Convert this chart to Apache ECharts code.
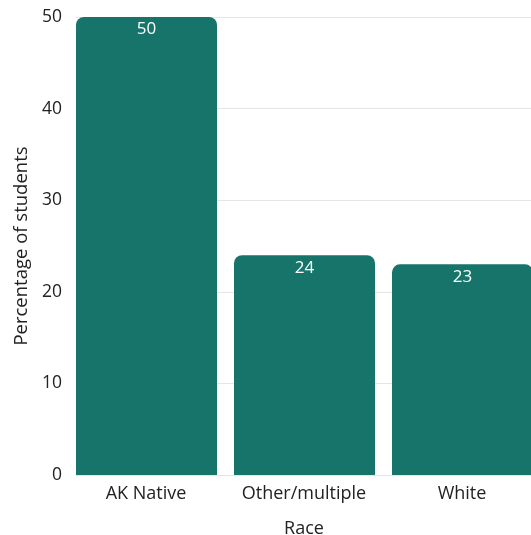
<!DOCTYPE html>
<html><head><meta charset="utf-8">
<script src="https://cdn.jsdelivr.net/npm/echarts@6/dist/echarts.min.js"></script>
<style>html,body{margin:0;padding:0;background:#fff}#c{width:531px;height:535px}</style>
</head><body><div id="c"></div>
<script>
const categories = ["AK Native", "Other/multiple", "White"];
const values = [50, 24, 23];
const spacer = [0, 0, 0];
const yTicks = [0, 10, 20, 30, 40, 50];
const xTitle = "Race";
const yTitle = "Percentage of students";

const FONT = 'Open Sans';
const chart = echarts.init(document.getElementById('c'));
chart.setOption({
  animation: false,
  grid: {left: 76, right: -19, top: 17, bottom: 60, containLabel: false, outerBoundsMode: 'none'},
  xAxis: {
    type: 'category', data: categories,
    name: xTitle, nameLocation: 'middle', nameGap: 45,
    nameTextStyle: {fontFamily: FONT, fontSize: 18, color: '#222', padding: [0, 18, 0, 0]},
    axisLine: {show: true, lineStyle: {color: '#e6e6e6'}},
    axisTick: {show: false},
    axisLabel: {interval: 0, hideOverlap: false, fontFamily: FONT, fontSize: 18, color: '#222', margin: 10, padding: [0, 18, 0, 0]}
  },
  yAxis: {
    type: 'value', min: yTicks[0], max: yTicks[yTicks.length-1], interval: 10,
    name: yTitle, nameLocation: 'middle', nameGap: 36, nameRotate: 90,
    nameTextStyle: {fontFamily: FONT, fontSize: 18.5, color: '#222'},
    axisLine: {show: false}, axisTick: {show: false},
    axisLabel: {fontFamily: FONT, fontSize: 17.5, color: '#222', margin: 14},
    splitLine: {lineStyle: {color: '#e6e6e6'}}
  },
  series: [{
    type: 'bar', data: values, barWidth: 141, barGap: 0,
    itemStyle: {color: '#16746a', borderRadius: [8, 8, 0, 0]},
    label: {show: true, position: 'insideTop', distance: 4, color: '#fff',
      fontFamily: FONT, fontSize: 17}
  }, {
    type: 'bar', data: spacer, barWidth: 17, barGap: 0,
    itemStyle: {color: 'rgba(0,0,0,0)'}, label: {show: false}, silent: true
  }]
});
</script></body></html>
